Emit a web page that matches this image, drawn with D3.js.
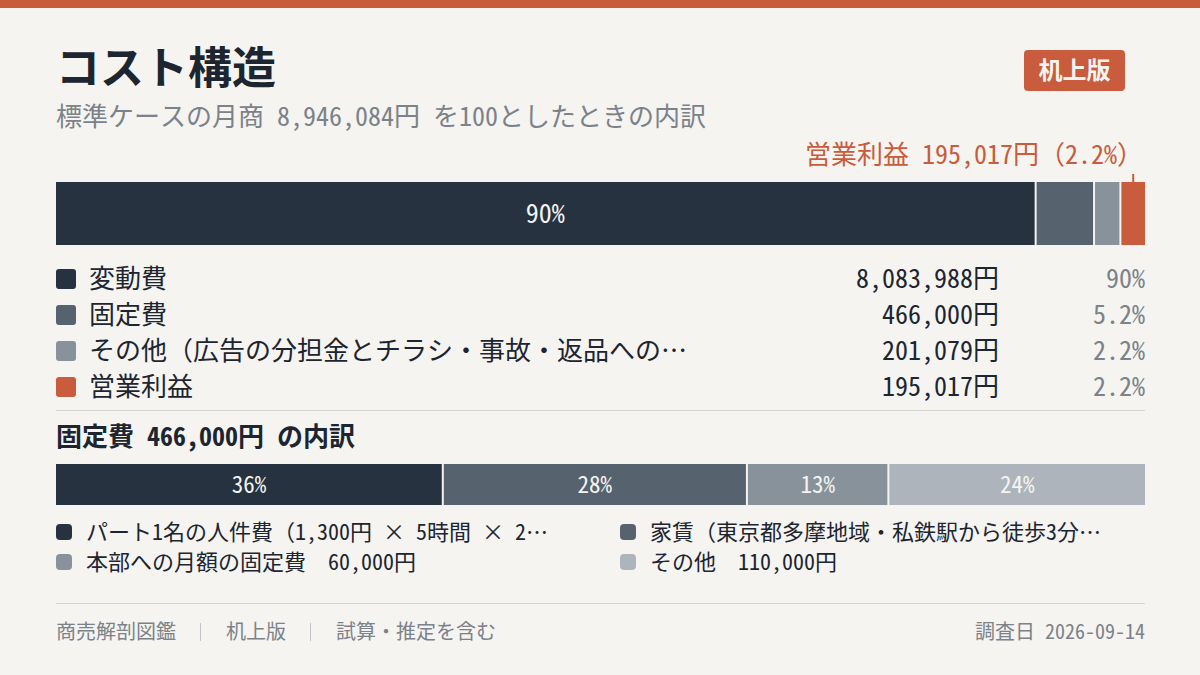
<!DOCTYPE html>
<html><head><meta charset="utf-8">
<script src="https://cdn.jsdelivr.net/npm/d3@7"></script>
<style>
html,body{margin:0;padding:0;background:#f5f4f0;}
svg{display:block;font-family:"Noto Sans Mono CJK JP","Noto Sans CJK JP",sans-serif;}
</style></head><body>
<svg id="c" width="1200" height="675"></svg>
<script>
// ---- data ----
const title = "コスト構造";
const subtitle = "標準ケースの月商 8,946,084円 を100としたときの内訳";
const badge = "机上版";
const mainCategories = ["変動費", "固定費", "その他（広告の分担金とチラシ・事故・返品への…", "営業利益"];
const mainValues = [8083988, 466000, 201079, 195017];
const mainPctLabels = ["90%", "5.2%", "2.2%", "2.2%"];
const mainColors = ["#263240", "#56636f", "#87929b", "#c85c3c"];
const profitNote = "営業利益 195,017円（2.2%）";

const subTitle = "固定費 466,000円 の内訳";
const subCategories = ["パート1名の人件費（1,300円 × 5時間 × 2…", "家賃（東京都多摩地域・私鉄駅から徒歩3分…", "本部への月額の固定費　60,000円", "その他　110,000円"];
const subValues = [166000, 130000, 60000, 110000];
const subPctLabels = ["36%", "28%", "13%", "24%"];
const subColors = ["#263240", "#56636f", "#87929b", "#adb4bb"];

const footerItems = ["商売解剖図鑑", "机上版", "試算・推定を含む"];
const footerRight = "調査日 2026-09-14";

// ---- drawing ----
const svg = d3.select("#c");
const W = 1200, L = 56, R = 1145;
const fmt = d3.format(",");
const INK = "#1c2530", GREY = "#7b828a", ORANGE = "#c85c3c", BG = "#f5f4f0";

svg.append("rect").attr("width", W).attr("height", 675).attr("fill", BG);
svg.append("rect").attr("width", W).attr("height", 8).attr("fill", ORANGE);

svg.append("text").attr("x", 56).attr("y", 84).attr("font-size", 44).attr("font-weight", 700)
  .attr("fill", INK).text(title);
svg.append("text").attr("x", 56).attr("y", 125.5).attr("font-size", 26).attr("fill", GREY).text(subtitle);

// badge
svg.append("rect").attr("x", 1024).attr("y", 50).attr("width", 101).attr("height", 41).attr("rx", 4)
  .attr("fill", ORANGE);
svg.append("text").attr("x", 1074.5).attr("y", 79).attr("text-anchor", "middle").attr("font-size", 24)
  .attr("font-weight", 700).attr("fill", BG).text(badge);

function stackedBar(values, colors, labels, y0, h, gap, fontSize) {
  const total = d3.sum(values);
  const avail = (R - L) - gap * (values.length - 1);
  const x = d3.scaleLinear().domain([0, total]).range([0, avail]);
  let acc = 0;
  const segs = values.map((v, i) => {
    const s = { x0: L + x(acc) + i * gap, w: x(v), color: colors[i], label: labels[i] };
    acc += v;
    return s;
  });
  const g = svg.append("g");
  g.selectAll("rect").data(segs).join("rect")
    .attr("x", d => d.x0).attr("y", y0).attr("width", d => d.w).attr("height", h)
    .attr("fill", d => d.color);
  g.selectAll("text").data(segs.filter(d => d.w > 60)).join("text")
    .attr("x", d => d.x0 + d.w / 2).attr("y", y0 + h / 2 + fontSize * 0.36)
    .attr("text-anchor", "middle").attr("font-size", fontSize).attr("font-weight", 500)
    .attr("fill", BG).text(d => d.label);
  return segs;
}

const mainSegs = stackedBar(mainValues, mainColors, mainPctLabels, 182, 63, 2, 26);
// profit note and tick
const last = mainSegs[mainSegs.length - 1];
svg.append("line").attr("x1", last.x0 + last.w / 2).attr("x2", last.x0 + last.w / 2)
  .attr("y1", 174).attr("y2", 182).attr("stroke", ORANGE).attr("stroke-width", 2);
svg.append("text").attr("x", 1143).attr("y", 163.5).attr("text-anchor", "end").attr("font-size", 26)
  .attr("font-weight", 500).attr("fill", ORANGE).text(profitNote);

// main legend
const rowY = [279, 315, 351, 387];
const lg = svg.append("g");
mainCategories.forEach((c, i) => {
  const y = rowY[i];
  lg.append("rect").attr("x", 56).attr("y", y - 10).attr("width", 20).attr("height", 20).attr("rx", 3)
    .attr("fill", mainColors[i]);
  lg.append("text").attr("x", 89).attr("y", y + 9).attr("font-size", 26).attr("fill", INK).text(c);
  lg.append("text").attr("x", 999).attr("y", y + 9).attr("text-anchor", "end").attr("font-size", 26)
    .attr("fill", INK).text(fmt(mainValues[i]) + "円");
  lg.append("text").attr("x", 1145).attr("y", y + 9).attr("text-anchor", "end").attr("font-size", 26)
    .attr("fill", GREY).text(mainPctLabels[i]);
});
svg.append("line").attr("x1", L).attr("x2", R).attr("y1", 410.5).attr("y2", 410.5)
  .attr("stroke", "#d6d4ce").attr("stroke-width", 1);

// sub section
svg.append("text").attr("x", 56).attr("y", 446).attr("font-size", 26).attr("font-weight", 700)
  .attr("fill", INK).text(subTitle);
stackedBar(subValues, subColors, subPctLabels, 464, 41, 2, 23);

const subPos = [[56, 532], [620, 532], [56, 562], [620, 562]];
subCategories.forEach((c, i) => {
  const [x, y] = subPos[i];
  svg.append("rect").attr("x", x).attr("y", y - 8).attr("width", 16).attr("height", 16).attr("rx", 4)
    .attr("fill", subColors[i]);
  svg.append("text").attr("x", x + 30).attr("y", y + 8).attr("font-size", 22).attr("fill", INK).text(c);
});

// footer
svg.append("line").attr("x1", L).attr("x2", R).attr("y1", 603.5).attr("y2", 603.5)
  .attr("stroke", "#d6d4ce").attr("stroke-width", 1);
let fx = 56;
footerItems.forEach((t, i) => {
  if (i > 0) {
    svg.append("line").attr("x1", fx + 24.5).attr("x2", fx + 24.5).attr("y1", 623).attr("y2", 641)
      .attr("stroke", "#c2c5c8").attr("stroke-width", 1);
    fx += 50;
  }
  const tn = svg.append("text").attr("x", fx).attr("y", 639).attr("font-size", 20).attr("fill", GREY).text(t);
  fx += tn.node().getComputedTextLength();
});
svg.append("text").attr("x", R).attr("y", 639).attr("text-anchor", "end").attr("font-size", 20)
  .attr("fill", GREY).text(footerRight);
</script>
</body></html>
